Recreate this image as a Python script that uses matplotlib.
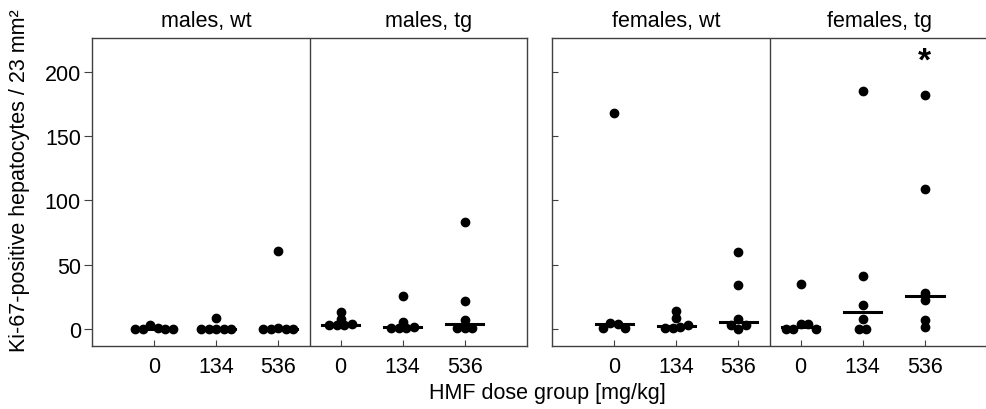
import numpy as np
import matplotlib
matplotlib.use("Agg")
import matplotlib.pyplot as plt

plt.rcParams["font.family"] = ["Liberation Sans", "DejaVu Sans"]

DOSES = ["0", "134", "536"]
PANEL_TITLES = [("males, wt", "males, tg"), ("females, wt", "females, tg")]

# Ki-67 positive hepatocytes per 23 mm², per animal (animal order) and dose group
males_wt = [[0, 0, 3, 1, 0, 0], [0, 0, 0, 0, 0, 9], [0, 0, 1, 0, 0, 61]]
males_tg = [[3, 3, 3, 4, 8, 13], [1, 1, 1, 2, 6, 26], [1, 1, 1, 7, 22, 83]]
females_wt = [[1, 5, 4, 1, 168], [1, 1, 2, 3, 9, 14], [3, 0, 3, 8, 34, 60]]
females_tg = [[0, 0, 4, 4, 0, 35], [0, 0, 8, 19, 41, 185], [2, 7, 23, 28, 109, 182]]

SIGNIF_VALUE = 208          # asterisk above females, tg / 536

PX_X = 62.0                 # pixels per group slot
STEP = 7.5                  # horizontal spacing of dots in a row (px)
TIE = 4.5                   # values closer than this share one row


def spread(vals):
    """Put near-equal values side by side, keep distinct ones centred."""
    order = np.argsort(vals, kind="stable")
    offs = np.zeros(len(vals))
    rows, cur = [], [order[0]]
    for i in order[1:]:
        if vals[i] - vals[cur[0]] <= TIE:
            cur.append(i)
        else:
            rows.append(cur)
            cur = [i]
    rows.append(cur)
    for row in rows:
        row = sorted(row)
        n = len(row)
        for j, i in enumerate(row):
            offs[i] = (j - (n - 1) / 2) * STEP / PX_X
    return offs


def draw_group(ax, xpos, vals):
    offs = spread(vals)
    ax.plot(xpos + offs, vals, "o", color="black", ms=6, zorder=3)
    med = np.median(vals)
    ax.plot([xpos - 0.3, xpos + 0.3], [med, med], color="black", lw=2.2, zorder=2)


fig = plt.figure(figsize=(9.86, 4.10), dpi=100)
ax_l = fig.add_axes([92 / 986, 63 / 410, 435 / 986, 308 / 410])
ax_r = fig.add_axes([552 / 986, 63 / 410, 435 / 986, 308 / 410])

title_x = [(1.84, 5.42), (1.84, 5.27)]
for k, (ax, (wt, tg)) in enumerate([(ax_l, (males_wt, males_tg)),
                                    (ax_r, (females_wt, females_tg))]):
    for i, vals in enumerate(wt):
        draw_group(ax, 1 + i, vals)
    for i, vals in enumerate(tg):
        draw_group(ax, 4 + i, vals)
    ax.axvline(3.5, color="#404040", lw=1)
    ax.set_xlim(0, 7)
    ax.set_ylim(-13, 226)
    ax.set_xticks([1, 2, 3, 4, 5, 6])
    ax.set_xticklabels(DOSES * 2)
    ax.set_yticks([0, 50, 100, 150, 200])
    ax.tick_params(axis="x", direction="in", length=4, color="#404040", pad=7, labelsize=15.5)
    ax.tick_params(axis="y", direction="out", length=6, color="#404040", pad=2, labelsize=15.5)
    for s in ax.spines.values():
        s.set_color("#404040")
        s.set_linewidth(1)
    for x, t in zip(title_x[k], PANEL_TITLES[k]):
        ax.text(x, 1.040, t, transform=ax.get_xaxis_transform(),
                ha="center", va="baseline", fontsize=15.5)

ax_r.tick_params(axis="y", direction="in", length=4)
ax_r.set_yticklabels([])
ax_r.text(6, SIGNIF_VALUE, "*", ha="center", va="center", fontsize=24, fontweight="bold")

fig.text(20 / 986, 1 - 181 / 410, "Ki-67-positive hepatocytes / 23 mm²", rotation=90,
         ha="center", va="center", fontsize=15.5)
fig.text(547 / 986, 1 - 394 / 410, "HMF dose group [mg/kg]", ha="center", va="center",
         fontsize=15.5)

fig.savefig("out.png", dpi=100, facecolor="white")
